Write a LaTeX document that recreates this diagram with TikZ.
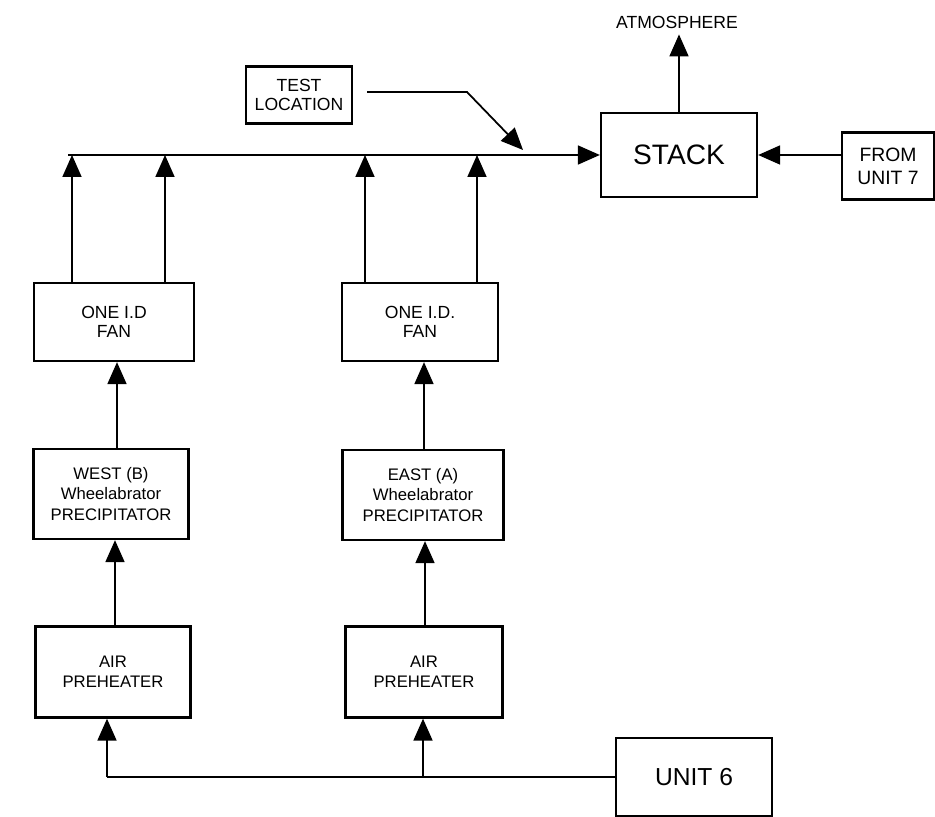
\documentclass[tikz,border=0pt]{standalone}
\usepackage{fontspec}
\setmainfont{Liberation Sans}
\usepackage{tikz}
\usetikzlibrary{arrows.meta,positioning,calc}

\begin{document}
\begin{tikzpicture}[
    x=0.2mm, y=-0.2mm,
    >={Triangle[width=3.8mm,length=4.4mm]},
    font=\fontsize{10}{11}\selectfont,
    unitbox/.style={
        draw=black,
        line width=1.3pt,
        align=center,
        inner sep=1pt,
        fill=white
    },
    arr/.style={->, line width=1pt}
]
\useasboundingbox (0,0) rectangle (935,817);

\node[unitbox, minimum width=21.2mm, minimum height=11.4mm] (test) at (299,95)
{TEST\\LOCATION};

\node[unitbox, minimum width=31.2mm, minimum height=16.8mm,
      font=\fontsize{16}{18}\selectfont] (stack) at (679,155) {STACK};

\node[unitbox, minimum width=18.4mm, minimum height=13.4mm,
      font=\fontsize{11}{13}\selectfont] (unitseven) at (888,166)
{FROM\\UNIT 7};

\node (atm) at (677,22) {ATMOSPHERE};

\node[unitbox, minimum width=32mm, minimum height=15.6mm] (fanW) at (114,322)
{ONE I.D\\FAN};
\node[unitbox, minimum width=31.2mm, minimum height=15.6mm] (fanE) at (420,322)
{ONE I.D.\\FAN};

\node[unitbox, minimum width=31mm, minimum height=18mm,
      font=\fontsize{9.5}{11.5}\selectfont] (precW) at (111,494)
{WEST (B)\\Wheelabrator\\PRECIPITATOR};
\node[unitbox, minimum width=32.2mm, minimum height=18mm,
      font=\fontsize{9.5}{11.5}\selectfont] (precE) at (423,495)
{EAST (A)\\Wheelabrator\\PRECIPITATOR};

\node[unitbox, minimum width=31mm, minimum height=18.2mm,
      font=\fontsize{9.5}{11.5}\selectfont] (airW) at (113,672)
{AIR\\PREHEATER};
\node[unitbox, minimum width=31.4mm, minimum height=18.2mm,
      font=\fontsize{9.5}{11.5}\selectfont] (airE) at (424,672)
{AIR\\PREHEATER};

\node[unitbox, minimum width=31.2mm, minimum height=15.6mm,
      font=\fontsize{14}{16}\selectfont] (unitsix) at (694,777) {UNIT 6};

% flue gas header to stack
\coordinate (busW) at (68,155);
\draw[arr] (busW) -- (stack.west);

\foreach \fan/\xa/\xb in {fanW/72/165, fanE/365/477}{
    \draw[arr] (\xa,0 |- \fan.north) -- (\xa,0 |- busW);
    \draw[arr] (\xb,0 |- \fan.north) -- (\xb,0 |- busW);
}

\draw[arr] (unitseven.west |- stack.east) -- (stack.east);
\draw[arr] (stack.north) -- (stack.north |- atm.south);

% test location pointer
\coordinate (tl1) at (367,92);
\coordinate (tl2) at (467,92);
\coordinate (tl3) at (523,150);
\draw[arr] (tl1) -- (tl2) -- (tl3);

% gas path up each side
\draw[arr] (precW.north -| 117,0) -- (117,0 |- fanW.south);
\draw[arr] (precE.north -| 424,0) -- (424,0 |- fanE.south);
\draw[arr] (airW.north -| 115,0) -- (115,0 |- precW.south);
\draw[arr] (airE.north -| 425,0) -- (425,0 |- precE.south);

% supply from unit 6
\coordinate (split) at (unitsix.west -| 107,0);
\draw[line width=1pt] (unitsix.west) -- (split);
\draw[arr] (split) -- (107,0 |- airW.south);
\draw[arr] (unitsix.west -| 423,0) -- (423,0 |- airE.south);

\end{tikzpicture}
\end{document}
